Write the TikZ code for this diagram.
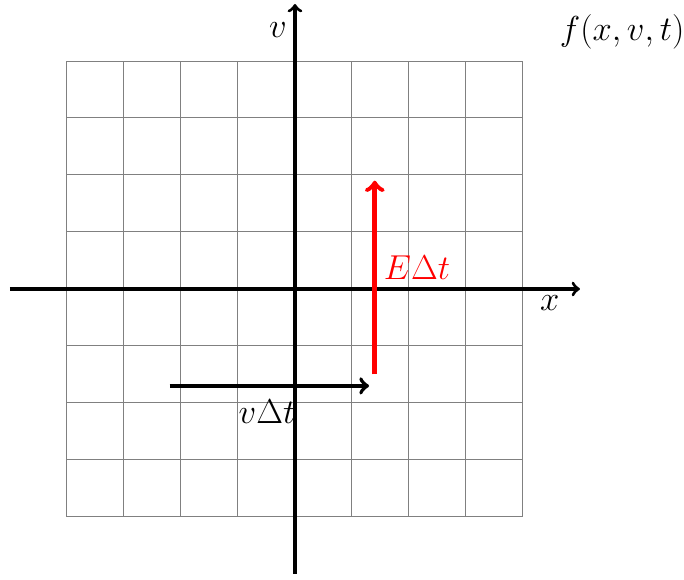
\documentclass[tikz,border=0pt]{standalone}
\begin{document}
\begin{tikzpicture}[x=1cm,y=1cm,
  axis/.style={line width=1.6pt,->},
  gridline/.style={gray,line width=0.5pt},
  lbl/.style={font=\LARGE}]
\useasboundingbox (-5.175,-5.09) rectangle (6.825,5.07);
\draw[gridline] (-4,-4) grid (4,4);
\coordinate (xl) at (-5,0);
\coordinate (xr) at (5,0);
\coordinate (vb) at (0,-5);
\coordinate (vt) at (0,5);
\draw[axis] (xl) -- (xr);
\draw[axis] (vb) -- (vt);
\node[lbl] (xlab) at (4.47,-0.25) {$x$};
\node[lbl] (vlab) at (-0.3,4.54) {$v$};
\node[lbl] (f) at (5.74,4.51) {$f(x,v,t)$};
\coordinate (ea) at (1.4,-1.5);
\coordinate (eb) at (1.4,1.9);
\draw[red,line width=2.4pt,->] (ea) -- (eb);
\node[lbl,red] (elab) at (2.14,0.37) {$E\Delta t$};
\coordinate (va) at (-2.2,-1.7);
\coordinate (vb2) at (1.3,-1.7);
\draw[line width=2pt,->] (va) -- (vb2);
\node[lbl] (vdt) at (-0.49,-2.16) {$v\Delta t$};
\end{tikzpicture}
\end{document}
